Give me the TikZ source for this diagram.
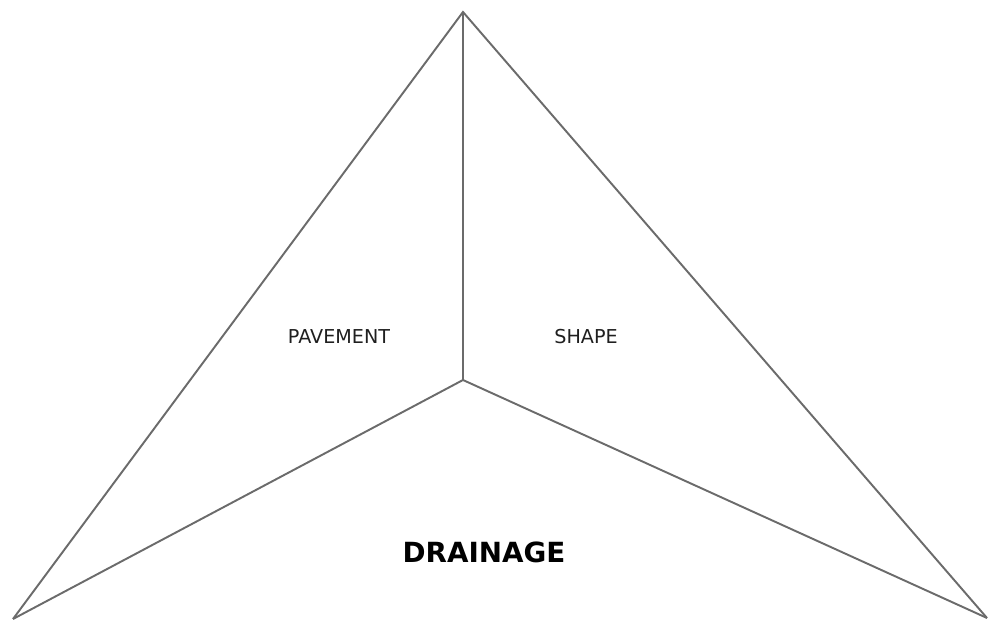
\documentclass[tikz,border=0pt]{standalone}
\usepackage{fontspec}
\setmainfont{DejaVu Sans}
\usetikzlibrary{positioning}

\begin{document}
\begin{tikzpicture}[
    x=0.02cm, y=-0.02cm,
    edge/.style={draw=black!58, line width=1.1pt, line join=miter}, % triangle lines
    part/.style={font=\fontsize{10.9}{13}\selectfont, text=black!88},
    mainpart/.style={font=\fontsize{15.8}{19}\selectfont\bfseries, text=black}
]
    \useasboundingbox (0,0) rectangle (988,621);

    % Corners of the triangle and its centre
    \coordinate (apex) at (463,12);
    \coordinate (left) at (13,619);
    \coordinate (right) at (987,618);
    \coordinate (hub) at (463,380);

    % Outer sides (no base line)
    \draw[edge] (left) -- (apex) -- (right);

    % Spokes from the centre
    \draw[edge] (hub) -- (apex);
    \draw[edge] (hub) -- (left);
    \draw[edge] (hub) -- (right);

    % Labels
    \node[part] (pavement) at (339,337) {PAVEMENT};
    \node[part] (shape) at (586,337) {SHAPE};
    \node[mainpart] (drainage) at (484,552) {DRAINAGE};

\end{tikzpicture}
\end{document}
